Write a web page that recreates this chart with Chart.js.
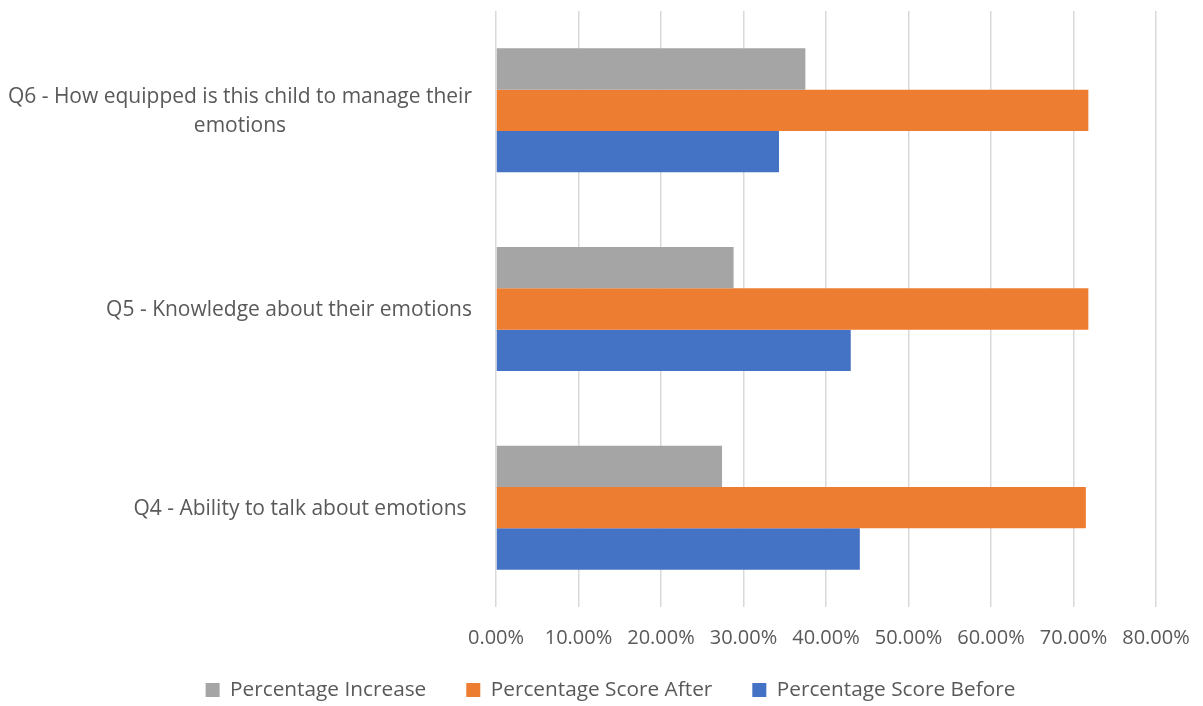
<!DOCTYPE html>
<html>
<head>
<meta charset="utf-8">
<script src="https://cdn.jsdelivr.net/npm/chart.js@4/dist/chart.umd.min.js"></script>
<style>
  html, body { margin: 0; padding: 0; background: #fff; }
  #wrap { width: 1203px; height: 706px; position: relative; }
</style>
</head>
<body>
<div id="wrap"><canvas id="myChart"></canvas></div>
<script>
// Frågor (uppifrån och ned)
const categories = [
    ['Q6 - How equipped is this child to manage their', 'emotions'],
    ['Q5 - Knowledge about their emotions'],
    ['Q4 - Ability to talk about emotions ']
];

// Värden i procent
const percentageIncrease = [37.5, 28.8, 27.4];
const percentageAfter = [71.8, 71.8, 71.5];
const percentageBefore = [34.3, 43.0, 44.1];

const xTicks = [0, 10, 20, 30, 40, 50, 60, 70, 80];

const textColor = '#595959';
const fontFamily = "'Open Sans', 'Liberation Sans', sans-serif";

// Ritar y-etiketterna: blocket högerjusterat, raderna centrerade inom blocket
const yLabelPlugin = {
    id: 'yLabels',
    afterDraw(chart) {
        const scale = chart.scales.y;
        const ctx = chart.ctx;
        ctx.save();
        ctx.font = '21px ' + fontFamily;
        ctx.fillStyle = textColor;
        ctx.textAlign = 'center';
        ctx.textBaseline = 'middle';
        const right = 472;
        const lineHeight = 29;
        categories.forEach((lines, i) => {
            const y = scale.getPixelForTick(i) + 1.5;
            const blockWidth = Math.max(...lines.map(l => ctx.measureText(l).width));
            const cx = right - blockWidth / 2;
            const top = y - (lines.length - 1) * lineHeight / 2;
            lines.forEach((line, j) => ctx.fillText(line, cx, top + j * lineHeight));
        });
        ctx.restore();
    }
};

const ctx = document.getElementById('myChart').getContext('2d');
new Chart(ctx, {
    type: 'bar',
    data: {
        labels: categories.map(l => l.join(' ')),
        datasets: [
            { label: 'Percentage Increase', data: percentageIncrease, backgroundColor: '#A5A5A5' },
            { label: 'Percentage Score After', data: percentageAfter, backgroundColor: '#ED7D31' },
            { label: 'Percentage Score Before', data: percentageBefore, backgroundColor: '#4472C4' }
        ]
    },
    options: {
        indexAxis: 'y',
        responsive: true,
        maintainAspectRatio: false,
        animation: false,
        layout: { padding: { top: 11, right: 47, left: 65, bottom: -4.4 } },
        datasets: {
            bar: { categoryPercentage: 0.624, barPercentage: 1.0 }
        },
        scales: {
            x: {
                min: 0,
                max: 80,
                afterBuildTicks: scale => { scale.ticks = xTicks.map(v => ({ value: v })); },
                afterFit: scale => {
                    scale.height = 32.6;
                    scale.paddingLeft = 0;
                    scale.paddingRight = 0;
                    // etiketterna får gå under axelns ruta
                    scale._computeLabelArea = () => null;
                },
                grid: { color: '#d9d9d9', lineWidth: 1.5, drawTicks: false },
                border: { display: false },
                ticks: {
                    padding: 19,
                    color: textColor,
                    font: { family: fontFamily, size: 20 },
                    callback: v => v.toFixed(2) + '%'
                }
            },
            y: {
                afterFit: scale => {
                    scale.width = 496 - 65;
                    scale.paddingTop = 0;
                    scale.paddingBottom = 0;
                },
                grid: { display: false },
                border: { display: false },
                ticks: { color: 'rgba(0,0,0,0)', font: { family: fontFamily, size: 19 } }
            }
        },
        plugins: {
            legend: {
                position: 'bottom',
                labels: {
                    color: textColor,
                    font: { family: fontFamily, size: 20.8 },
                    boxWidth: 14,
                    boxHeight: 14,
                    padding: 40
                }
            },
            tooltip: { enabled: false }
        }
    },
    plugins: [yLabelPlugin]
});
</script>
</body>
</html>
